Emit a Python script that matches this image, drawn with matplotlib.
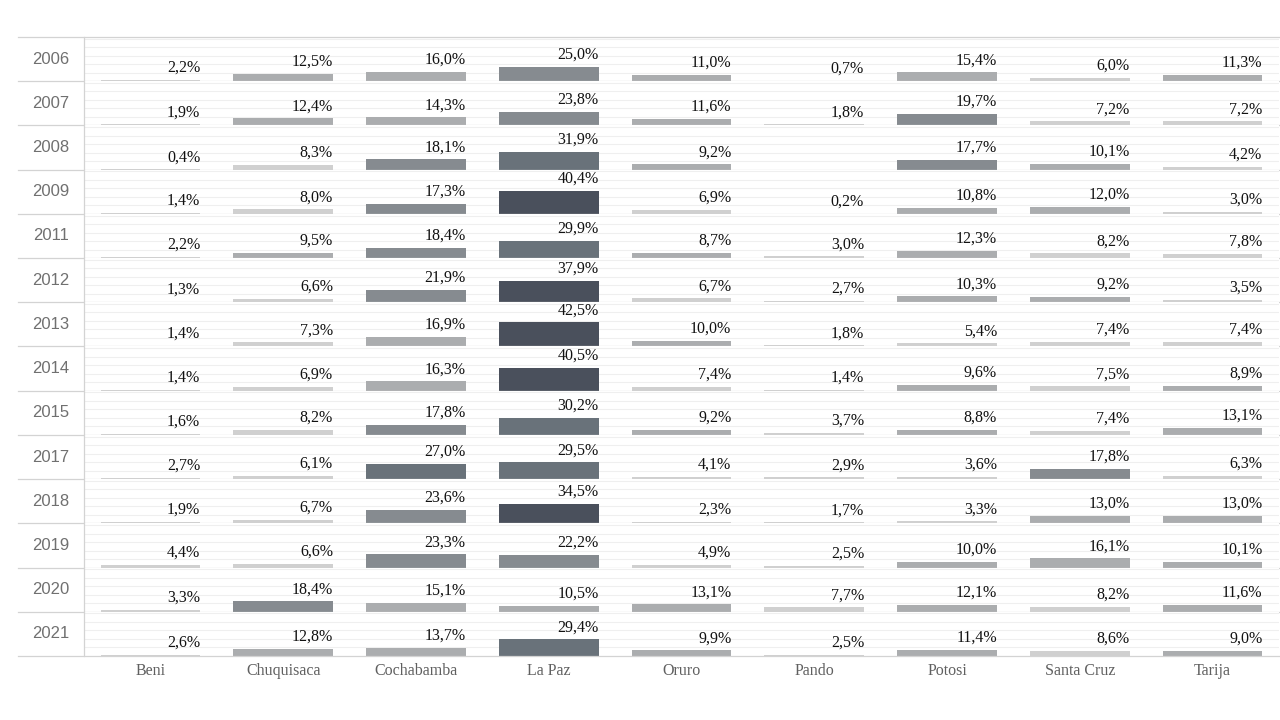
import numpy as np
import matplotlib
matplotlib.use("Agg")
import matplotlib.pyplot as plt

# años (filas) y departamentos (columnas)
years = ["2006", "2007", "2008", "2009", "2011", "2012", "2013",
         "2014", "2015", "2017", "2018", "2019", "2020", "2021"]
departments = ["Beni", "Chuquisaca", "Cochabamba", "La Paz", "Oruro",
               "Pando", "Potosi", "Santa Cruz", "Tarija"]

# porcentaje por año, en el orden de departments (nan = sin dato)
v2006 = [2.2, 12.5, 16.0, 25.0, 11.0, 0.7, 15.4, 6.0, 11.3]
v2007 = [1.9, 12.4, 14.3, 23.8, 11.6, 1.8, 19.7, 7.2, 7.2]
v2008 = [0.4, 8.3, 18.1, 31.9, 9.2, np.nan, 17.7, 10.1, 4.2]
v2009 = [1.4, 8.0, 17.3, 40.4, 6.9, 0.2, 10.8, 12.0, 3.0]
v2011 = [2.2, 9.5, 18.4, 29.9, 8.7, 3.0, 12.3, 8.2, 7.8]
v2012 = [1.3, 6.6, 21.9, 37.9, 6.7, 2.7, 10.3, 9.2, 3.5]
v2013 = [1.4, 7.3, 16.9, 42.5, 10.0, 1.8, 5.4, 7.4, 7.4]
v2014 = [1.4, 6.9, 16.3, 40.5, 7.4, 1.4, 9.6, 7.5, 8.9]
v2015 = [1.6, 8.2, 17.8, 30.2, 9.2, 3.7, 8.8, 7.4, 13.1]
v2017 = [2.7, 6.1, 27.0, 29.5, 4.1, 2.9, 3.6, 17.8, 6.3]
v2018 = [1.9, 6.7, 23.6, 34.5, 2.3, 1.7, 3.3, 13.0, 13.0]
v2019 = [4.4, 6.6, 23.3, 22.2, 4.9, 2.5, 10.0, 16.1, 10.1]
v2020 = [3.3, 18.4, 15.1, 10.5, 13.1, 7.7, 12.1, 8.2, 11.6]
v2021 = [2.6, 12.8, 13.7, 29.4, 9.9, 2.5, 11.4, 8.6, 9.0]

values = np.array([v2006, v2007, v2008, v2009, v2011, v2012, v2013,
                   v2014, v2015, v2017, v2018, v2019, v2020, v2021])

# escala de color en 5 pasos
step_colors = ["#d0d0d0", "#abadaf", "#868b90", "#69727a", "#4a505c"]
vmin = np.nanmin(values)
vmax = np.nanmax(values)


def color_for(v):
    idx = int((v - vmin) / (vmax - vmin) * 5)
    return step_colors[min(idx, 4)]


fig = plt.figure(figsize=(12.8, 7.2), dpi=100)
n = len(years)
left, right = 84 / 1280, 1279 / 1280
top, bottom = 1 - 37 / 720, 1 - 656 / 720
axes = fig.subplots(n, 1, sharex=True,
                    gridspec_kw=dict(left=left, right=right, top=top,
                                     bottom=bottom, hspace=0))

line_col = "#d3d3d3"
ext = -(84 - 18) / 1195  # extensión de las líneas hacia la izquierda
x = np.arange(len(departments))

for i, ax in enumerate(axes):
    row = values[i]
    ok = ~np.isnan(row)
    ax.bar(x[ok], row[ok], width=0.75,
           color=[color_for(v) for v in row[ok]], zorder=2)
    for xi, v in zip(x[ok], row[ok]):
        ax.annotate(f"{v:.1f}%".replace(".", ","), (xi + 0.375, v),
                    xytext=(0, 3), textcoords="offset points",
                    ha="right", va="bottom", fontsize=11.5,
                    family="Liberation Serif", color="#111111")
    ax.set_xlim(-0.5, len(departments) - 0.5)
    ax.set_ylim(0, 78)
    ax.set_yticks([15, 30, 45, 60, 75])
    ax.yaxis.grid(True, color="#efefef", lw=0.8, zorder=0)
    ax.tick_params(axis="both", length=0, labelleft=False)
    for s in ["top", "right", "bottom"]:
        ax.spines[s].set_visible(False)
    ax.spines["left"].set_color(line_col)
    ax.spines["left"].set_linewidth(0.9)
    ax.axhline(0, xmin=ext, xmax=1, color=line_col, lw=0.9,
               clip_on=False, zorder=3)
    if i == 0:
        ax.axhline(78, xmin=ext, xmax=1, color=line_col, lw=0.9,
                   clip_on=False, zorder=3)
    ax.text(-0.0276, 0.5, years[i], transform=ax.transAxes,
            ha="center", va="center", fontsize=12, color="#707070",
            family=["Liberation Sans Narrow", "Liberation Sans"])

axes[-1].set_xticks(x)
axes[-1].set_xticklabels(departments, family="Liberation Serif",
                         fontsize=11.5, color="#606060")
axes[-1].tick_params(axis="x", pad=5)

plt.savefig("out.png", dpi=100)
